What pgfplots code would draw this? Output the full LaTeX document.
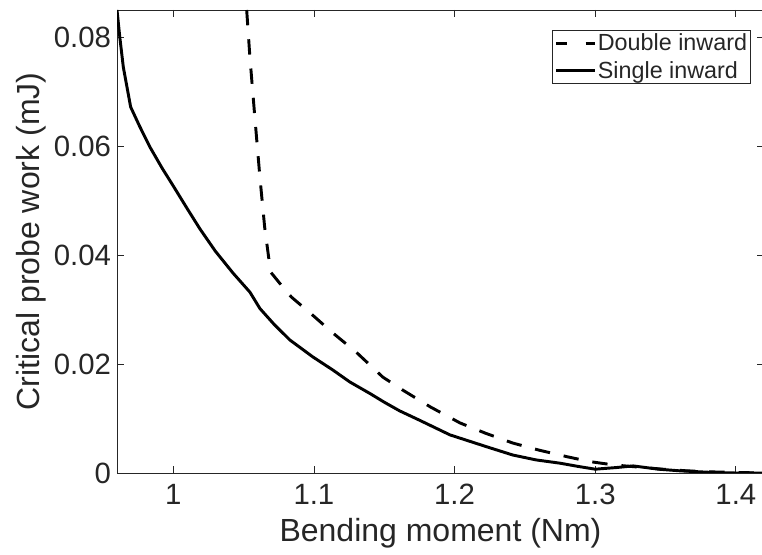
\documentclass[border=0pt]{standalone}
\usepackage{pgfplots}
\pgfplotsset{compat=1.18}
\usepackage{fontspec}
\setmainfont{Liberation Sans}
\usetikzlibrary{calc}
\definecolor{mgray}{HTML}{262626}
\begin{document}
\begin{tikzpicture}
\begin{axis}[
  name=ax,
  scale only axis,
  width=485.25pt, height=347.25pt,
  xmin=0.96, xmax=1.42, ymin=0, ymax=0.085,
  xtick={1,1.1,1.2,1.3,1.4},
  ytick={0,0.02,0.04,0.06,0.08},
  yticklabels={0,0.02,0.04,0.06,0.08},
  xticklabels={1,1.1,1.2,1.3,1.4},
  tick align=inside,
  major tick length=5pt,
  tick style={mgray, line width=0.6pt},
  axis line style={mgray, line width=0.7pt},
  every tick label/.append style={font=\fontsize{22}{24}\selectfont, text=mgray},
  xticklabel style={yshift=-5pt},
  yticklabel style={xshift=-1pt},
  xlabel={Bending moment (Nm)},
  ylabel={Critical probe work (mJ)},
  label style={font=\fontsize{24}{26}\selectfont, text=mgray},
  xlabel style={yshift=-3pt},
  ylabel style={yshift=-1pt},
  legend style={at={(rel axis cs:0.98,0.957)}, anchor=north east,
    draw=mgray, line width=0.6pt, inner sep=1.5pt,
    font=\fontsize{17.5}{19}\selectfont, text=mgray,
    nodes={inner sep=1.2pt}, row sep=4pt},
  legend cell align=left,
]
\addplot[black, line width=2.2pt, dash pattern=on 11.5pt off 10.5pt,
  legend image code/.code={\draw[black, line width=2.2pt, dash pattern=on 8pt off 14pt] (0pt,0pt) -- (29pt,0pt);}] coordinates {
(1.0522,0.0850) (1.0545,0.0763) (1.0580,0.0653) (1.0616,0.0543) (1.0650,0.0451)
(1.0692,0.0369) (1.0780,0.0341) (1.0840,0.0323) (1.0990,0.0290) (1.1135,0.0257)
(1.1300,0.0222) (1.1490,0.0176) (1.1633,0.0152) (1.1830,0.0121) (1.2038,0.0092)
(1.2220,0.0073) (1.2414,0.0055) (1.2600,0.0042) (1.2798,0.0030) (1.2960,0.0021)
(1.3125,0.0015) (1.3300,0.0011) (1.3480,0.0007) (1.3650,0.0004) (1.3836,0.0002)
(1.4000,0.0001) (1.4200,0.0000)
};
\addlegendentry{Double inward}
\addplot[black, line width=2.2pt,
  legend image code/.code={\draw[black, line width=2.2pt] (0pt,0pt) -- (29pt,0pt);}] coordinates {
(0.9600,0.0850) (0.9620,0.0800) (0.9645,0.0745) (0.9697,0.0672) (0.9760,0.0637)
(0.9835,0.0598) (0.9920,0.0560) (1.0000,0.0527) (1.0100,0.0485) (1.0190,0.0448)
(1.0300,0.0407) (1.0425,0.0367) (1.0545,0.0332) (1.0616,0.0302) (1.0720,0.0272)
(1.0830,0.0244) (1.0993,0.0213) (1.1135,0.0189) (1.1256,0.0167) (1.1398,0.0146)
(1.1500,0.0130) (1.1610,0.0114) (1.1750,0.0097) (1.1967,0.0070) (1.2230,0.0048)
(1.2414,0.0033) (1.2580,0.0024) (1.2750,0.0018) (1.2880,0.0012) (1.3000,0.0007)
(1.3150,0.0010) (1.3270,0.0013) (1.3450,0.0007) (1.3600,0.0004) (1.3836,0.0001)
(1.4000,0.0000) (1.4200,0.0000)
};
\addlegendentry{Single inward}
\end{axis}
\pgfresetboundingbox
\path ($(ax.south west)+(-87.75pt,-61.5pt)$) rectangle ($(ax.north east)+(-1.5pt,7.5pt)$);
\end{tikzpicture}
\end{document}
